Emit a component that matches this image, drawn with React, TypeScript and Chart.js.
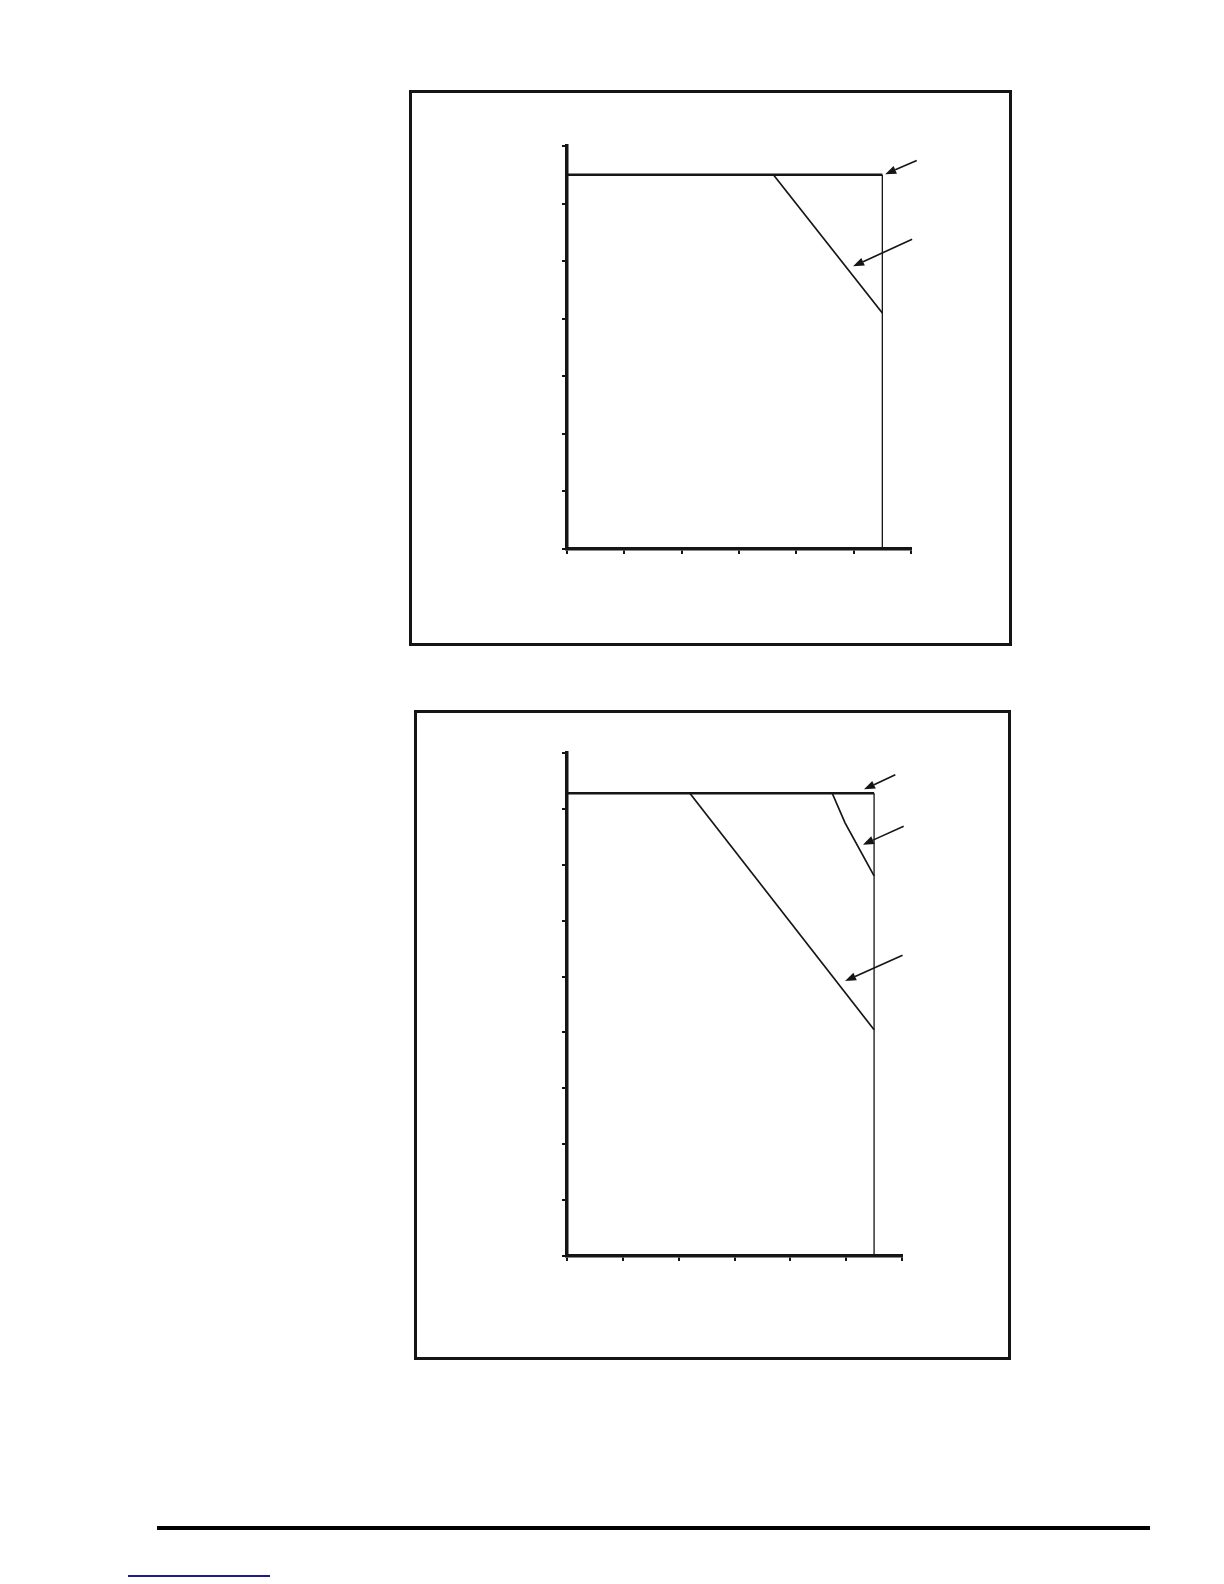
import React, { useEffect, useRef } from "react";
import { Chart, registerables } from "chart.js";

Chart.register(...registerables);

// ---------- Chart 1 data ----------
const c1XTicks = [0, 20, 40, 60, 80, 100, 120];
const c1YTicks = [0, 20, 40, 60, 80, 100, 120, 140];
const c1Top = [
  { x: 0, y: 130 },
  { x: 110, y: 130 },
];
const c1Vertical = [
  { x: 110, y: 130 },
  { x: 110, y: 0 },
];
const c1Diagonal = [
  { x: 72, y: 130 },
  { x: 110, y: 82 },
];
// arrows: [tailX, tailY, tipX, tipY]
const c1Arrows = [
  [122, 135, 111, 130.2],
  [120.4, 107.6, 99.8, 98.2],
];

// ---------- Chart 2 data ----------
const c2XTicks = [0, 20, 40, 60, 80, 100, 120];
const c2YTicks = [0, 20, 40, 60, 80, 100, 120, 140, 160, 180];
const c2Top = [
  { x: 0, y: 165.6 },
  { x: 110, y: 165.6 },
];
const c2Vertical = [
  { x: 110, y: 165.6 },
  { x: 110, y: 0 },
];
const c2Diagonal1 = [
  { x: 44, y: 165.6 },
  { x: 110, y: 81 },
];
const c2Diagonal2 = [
  { x: 95, y: 165.6 },
  { x: 99.6, y: 155 },
  { x: 110, y: 136 },
];
const c2Arrows = [
  [117.6, 172.2, 106.4, 167],
  [120.6, 153.8, 106, 147.2],
  [120.2, 107.6, 99.6, 98.4],
];

const INK = "#151515";
const TICK_LEN = 5;

const arrowPlugin = {
  id: "arrowAnnotations",
  afterDatasetsDraw(chart: any, _args: any, opts: any) {
    const arrows: number[][] = opts.arrows || [];
    const xs = chart.scales.x;
    const ys = chart.scales.y;
    const ctx = chart.ctx;
    ctx.save();
    ctx.strokeStyle = INK;
    ctx.fillStyle = INK;
    ctx.lineWidth = 1.6;
    for (const a of arrows) {
      const x1 = xs.getPixelForValue(a[0]);
      const y1 = ys.getPixelForValue(a[1]);
      const x2 = xs.getPixelForValue(a[2]);
      const y2 = ys.getPixelForValue(a[3]);
      const ang = Math.atan2(y2 - y1, x2 - x1);
      const hl = 11;
      const hw = 4.2;
      const bx = x2 - hl * Math.cos(ang);
      const by = y2 - hl * Math.sin(ang);
      ctx.beginPath();
      ctx.moveTo(x1, y1);
      ctx.lineTo(bx, by);
      ctx.stroke();
      ctx.beginPath();
      ctx.moveTo(x2, y2);
      ctx.lineTo(bx + hw * Math.sin(ang), by - hw * Math.cos(ang));
      ctx.lineTo(bx - hw * Math.sin(ang), by + hw * Math.cos(ang));
      ctx.closePath();
      ctx.fill();
    }
    ctx.restore();
  },
};

type Seg = { data: { x: number; y: number }[]; width: number };

function makeConfig(
  segs: Seg[],
  xTicks: number[],
  yTicks: number[],
  arrows: number[][],
  pad: { left: number; top: number; right: number; bottom: number }
): any {
  const axis = (ticks: number[]) => ({
    type: "linear",
    min: ticks[0],
    max: ticks[ticks.length - 1],
    afterBuildTicks: (scale: any) => {
      scale.ticks = ticks.map((v) => ({ value: v }));
    },
    ticks: { display: false },
    grid: {
      display: true,
      drawOnChartArea: false,
      drawTicks: true,
      tickLength: TICK_LEN,
      lineWidth: 2,
      color: INK,
    },
    border: { display: true, color: INK, width: 3.5 },
  });
  return {
    type: "scatter",
    data: {
      datasets: segs.map((s) => ({
        data: s.data,
        showLine: true,
        borderColor: INK,
        borderWidth: s.width,
        pointRadius: 0,
        fill: false,
        tension: 0,
      })),
    },
    options: {
      animation: false,
      responsive: false,
      devicePixelRatio: 1,
      events: [],
      layout: { padding: pad },
      plugins: {
        legend: { display: false },
        tooltip: { enabled: false },
        title: { display: false },
        arrowAnnotations: { arrows },
      },
      scales: { x: axis(xTicks), y: axis(yTicks) },
    },
    plugins: [arrowPlugin],
  };
}

function ChartCanvas(props: {
  left: number;
  top: number;
  width: number;
  height: number;
  config: any;
}) {
  const ref = useRef<HTMLCanvasElement | null>(null);
  useEffect(() => {
    if (!ref.current) return;
    const chart = new Chart(ref.current, props.config);
    return () => chart.destroy();
  }, []);
  return (
    <canvas
      ref={ref}
      width={props.width}
      height={props.height}
      style={{
        position: "absolute",
        left: props.left,
        top: props.top,
        width: props.width,
        height: props.height,
      }}
    />
  );
}

export default function App() {
  // chart 1 plot area: x 567..911, y 146..549
  const c1 = { left: 527, top: 126, width: 420, height: 443 };
  const c1Pad = { left: 40 - TICK_LEN, top: 20, right: 947 - 911, bottom: 20 - TICK_LEN };
  // chart 2 plot area: x 567..902, y 753..1256
  const c2 = { left: 527, top: 733, width: 420, height: 543 };
  const c2Pad = { left: 40 - TICK_LEN, top: 20, right: 947 - 902, bottom: 20 - TICK_LEN };

  const cfg1 = makeConfig(
    [
      { data: c1Top, width: 2.4 },
      { data: c1Vertical, width: 1.3 },
      { data: c1Diagonal, width: 1.7 },
    ],
    c1XTicks,
    c1YTicks,
    c1Arrows,
    c1Pad
  );
  const cfg2 = makeConfig(
    [
      { data: c2Top, width: 2.4 },
      { data: c2Vertical, width: 1.3 },
      { data: c2Diagonal1, width: 1.7 },
      { data: c2Diagonal2, width: 1.7 },
    ],
    c2XTicks,
    c2YTicks,
    c2Arrows,
    c2Pad
  );

  return (
    <div
      style={{
        position: "absolute",
        left: 0,
        top: 0,
        width: 1224,
        height: 1584,
        background: "#ffffff",
      }}
    >
      <div
        style={{
          position: "absolute",
          left: 409,
          top: 90,
          width: 603,
          height: 556,
          border: "3.5px solid " + INK,
          boxSizing: "border-box",
        }}
      />
      <div
        style={{
          position: "absolute",
          left: 414,
          top: 710,
          width: 597,
          height: 650,
          border: "3.5px solid " + INK,
          boxSizing: "border-box",
        }}
      />
      <ChartCanvas {...c1} config={cfg1} />
      <ChartCanvas {...c2} config={cfg2} />
      <div
        style={{
          position: "absolute",
          left: 157,
          top: 1526,
          width: 993,
          height: 4,
          background: "#000",
        }}
      />
      <div
        style={{
          position: "absolute",
          left: 128,
          top: 1575,
          width: 142,
          height: 2,
          background: "#1c1c8a",
        }}
      />
    </div>
  );
}
